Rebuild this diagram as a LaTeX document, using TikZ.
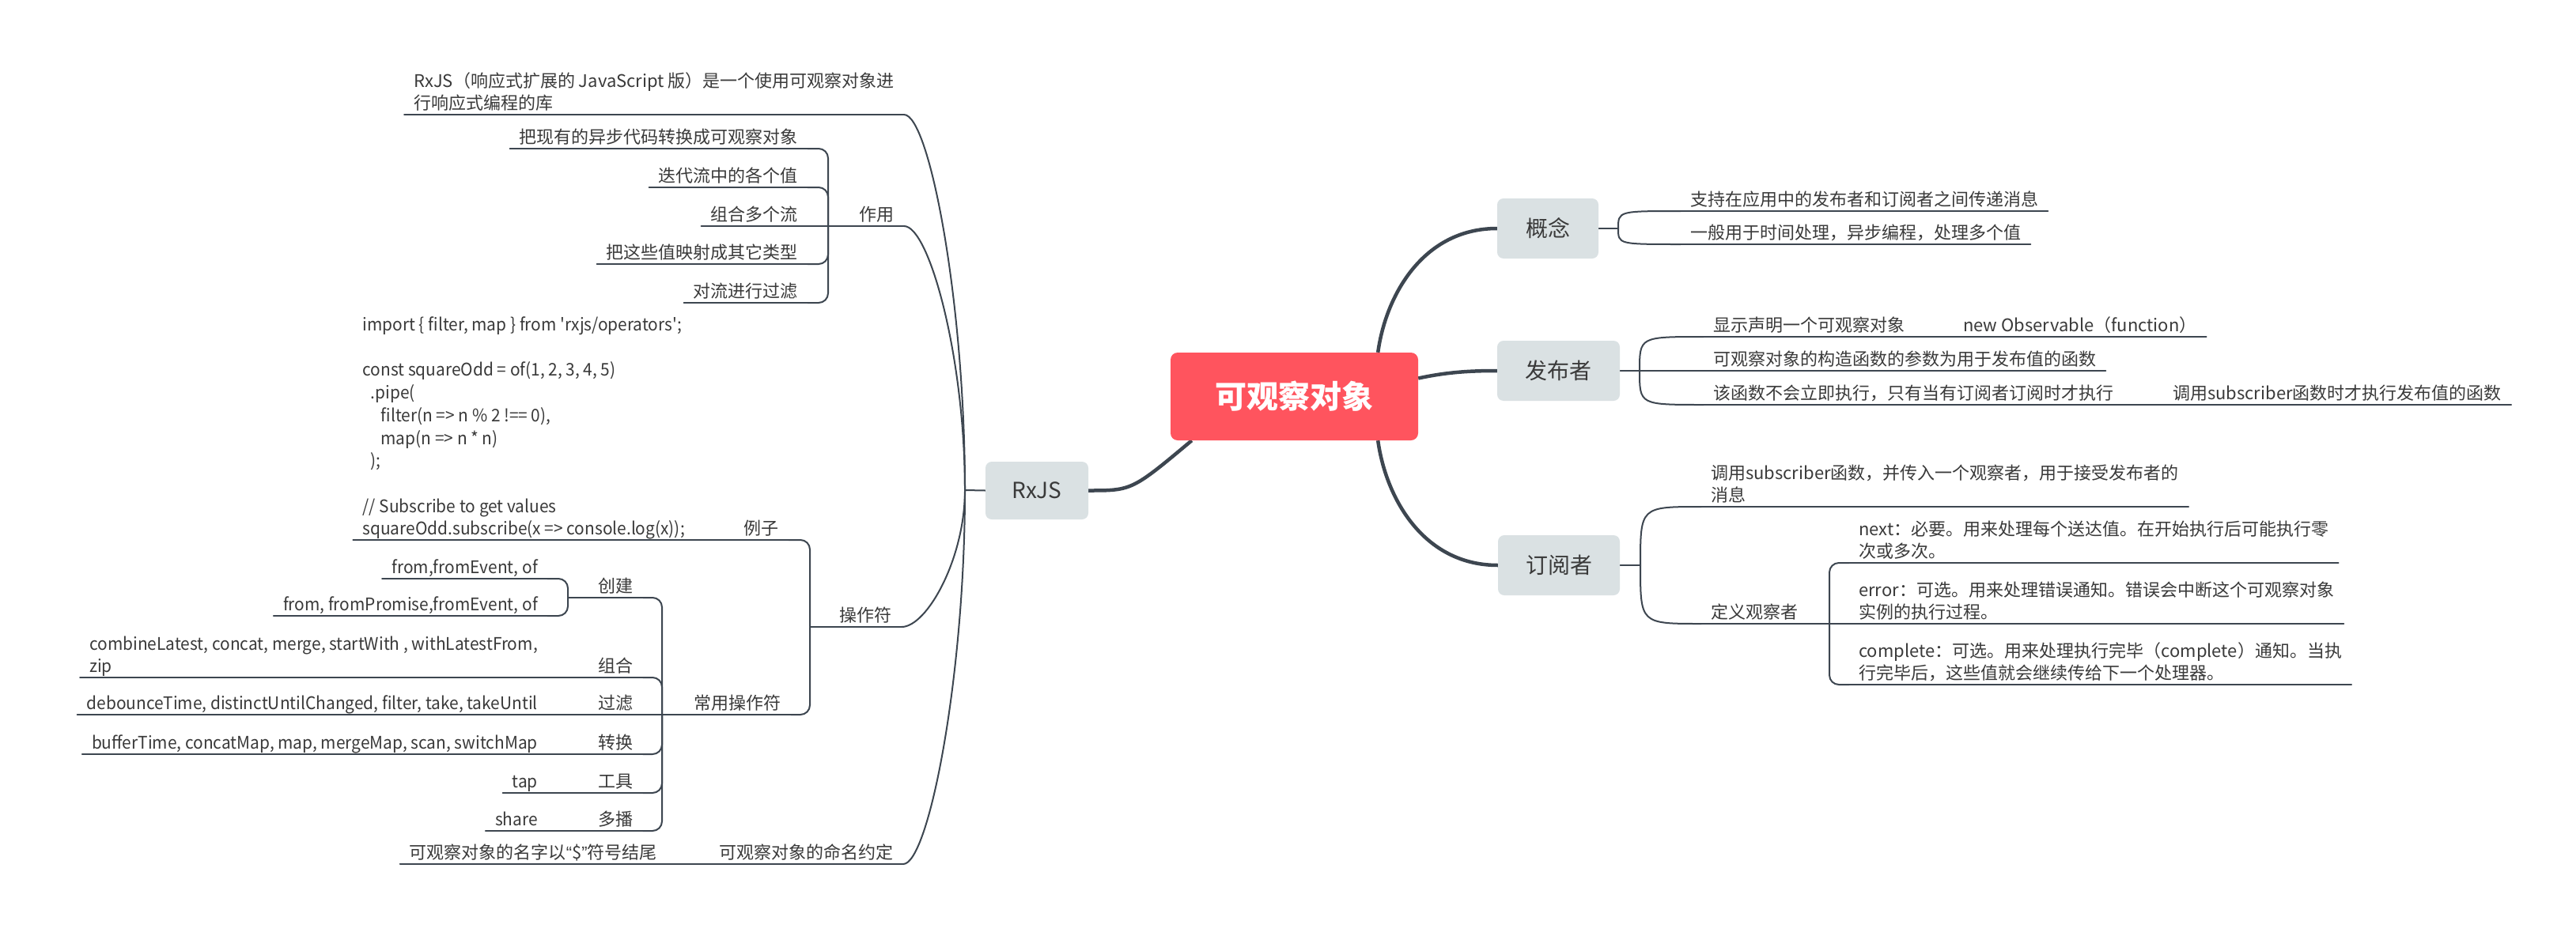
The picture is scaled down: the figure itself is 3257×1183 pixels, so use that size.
\documentclass[tikz,border=0pt]{standalone}
\usepackage{fontspec}
\setmainfont{Noto Sans CJK SC}
\newfontfamily\latf[FakeStretch=0.95]{Noto Sans CJK SC}
\newfontfamily\qfont{Liberation Sans}
\usetikzlibrary{calc}
\definecolor{lnc}{RGB}{61,70,80}
\definecolor{txc}{RGB}{58,58,58}
\definecolor{subfill}{RGB}{218,225,227}
\definecolor{rootfill}{RGB}{255,84,94}
\newcommand{\tstrut}{\rule[-5.5pt]{0pt}{0pt}}
\pgfdeclarelayer{bg}
\pgfsetlayers{bg,main}
\begin{document}
\begin{tikzpicture}[x=1pt,y=-1pt,
  conn/.style={draw=lnc, line width=2pt, line cap=round},
  mainconn/.style={draw=lnc, line width=4.5pt},
  br/.style={conn, rounded corners=12pt},
  topic/.style={font=\fontsize{22}{28.7}\selectfont, text=txc, inner xsep=12pt, inner ysep=0.5pt, text height=17pt, text depth=5.5pt},
  ltopic/.style={topic, font=\fontsize{22}{28.7}\selectfont\latf},
  mtopic/.style={font=\fontsize{22}{28.7}\selectfont, text=txc, align=left, inner xsep=12pt, inner ysep=0.5pt},
  lmtopic/.style={mtopic, font=\fontsize{22}{28.7}\selectfont\latf},
  subbox/.style={fill=subfill, rounded corners=8pt, text=txc, font=\fontsize{28}{34}\selectfont, inner sep=0pt},
  rootbox/.style={fill=rootfill, rounded corners=9pt, text=white, font=\fontsize{40}{48}\selectfont\bfseries, inner sep=0pt},
]
\useasboundingbox (0,0) rectangle (3257,1183);
\begin{pgfonlayer}{bg}
\fill[white] (0,0) rectangle (3257,1183);
\end{pgfonlayer}

% ---------- main nodes ----------
\node[rootbox, minimum width=313pt, minimum height=111pt] (C) at (1636.5,501.5) {可观察对象};
\node[subbox, minimum width=130pt, minimum height=73pt] (R) at (1311,620.5) {RxJS};
\node[subbox, minimum width=128pt, minimum height=76pt] (K1) at (1957,289) {概念};
\node[subbox, minimum width=155pt, minimum height=76pt] (K2) at (1970.5,469) {发布者};
\node[subbox, minimum width=154pt, minimum height=76pt] (K3) at (1971,715) {订阅者};

% ---------- junctions ----------
\coordinate (J) at (1220,620);
\coordinate (jK) at (2046,289);
\coordinate (jP) at (2073,469);
\coordinate (jS) at (2074,715);
\coordinate (brA) at (1047,286);
\coordinate (brOp) at (1024,793);
\coordinate (brC2) at (837,904);
\coordinate (brE1) at (718,756);
\coordinate (brS) at (2313,789);

% ---------- RxJS branch ----------
\node[mtopic, anchor=south east] (A1) at (1143,145) {RxJS（响应式扩展的 JavaScript 版）是一个使用可观察对象进\\行响应式编程的库\tstrut};
\node[topic, anchor=south east] (A2) at (1143,286) {作用};
\node[topic, anchor=south east] (A3) at (1140,793) {操作符};
\node[topic, anchor=south east] (A4) at (1142,1093) {可观察对象的命名约定};

\node[topic, anchor=south east] (B1) at (1021,188) {把现有的异步代码转换成可观察对象};
\node[topic, anchor=south east] (B2) at (1021,237) {迭代流中的各个值};
\node[topic, anchor=south east] (B3) at (1021,286) {组合多个流};
\node[topic, anchor=south east] (B4) at (1021,334) {把这些值映射成其它类型};
\node[topic, anchor=south east] (B5) at (1021,383) {对流进行过滤};

\node[topic, anchor=south east] (C1) at (997,683) {例子};
\node[lmtopic, anchor=south east] (D1) at (878,683) {import \{ filter, map \} from \textquotesingle rxjs/operators\textquotesingle;\\
\mbox{}\\
const squareOdd = of(1, 2, 3, 4, 5)\\
\hspace*{10pt}.pipe(\\
\hspace*{23pt}filter(n => n \% 2 !== 0),\\
\hspace*{23pt}map(n => n * n)\\
\hspace*{10pt});\\
\mbox{}\\
// Subscribe to get values\\
squareOdd.subscribe(x => console.log(x));\tstrut};
\node[topic, anchor=south east] (C2) at (1000,904) {常用操作符};

\node[topic, anchor=south east] (E1) at (813,756) {创建};
\node[topic, anchor=south east] (E2) at (813,857) {组合};
\node[topic, anchor=south east] (E3) at (813,904) {过滤};
\node[topic, anchor=south east] (E4) at (813,954) {转换};
\node[topic, anchor=south east] (E5) at (813,1003) {工具};
\node[topic, anchor=south east] (E6) at (813,1051) {多播};

\node[ltopic, anchor=south east] (F1) at (692,732) {from,fromEvent, of};
\node[ltopic, anchor=south east] (F2) at (692,779) {from, fromPromise,fromEvent, of};
\node[lmtopic, anchor=south east] (F3) at (692,857) {combineLatest, concat, merge, startWith , withLatestFrom,\\zip\tstrut};
\node[ltopic, anchor=south east] (F4) at (692,904) {debounceTime, distinctUntilChanged, filter, take, takeUntil};
\node[ltopic, anchor=south east] (F5) at (692,954) {bufferTime, concatMap, map, mergeMap, scan, switchMap};
\node[ltopic, anchor=south east] (F6) at (692,1003) {tap};
\node[ltopic, anchor=south east] (F7) at (692,1051) {share};

\node[topic, anchor=south east] (G1) at (843,1093) {可观察对象的名字以{\qfont “}\${\qfont ”}符号结尾};

% ---------- right branches ----------
\node[topic, anchor=south west] (K1a) at (2125,267) {支持在应用中的发布者和订阅者之间传递消息};
\node[topic, anchor=south west] (K1b) at (2125,309) {一般用于时间处理，异步编程，处理多个值};

\node[topic, anchor=south west] (P1) at (2154,426) {显示声明一个可观察对象};
\node[topic, anchor=south west] (P1a) at (2470,426) {new Observable（function）};
\node[topic, anchor=south west] (P2) at (2154,469) {可观察对象的构造函数的参数为用于发布值的函数};
\node[topic, anchor=south west] (P3) at (2154,512) {该函数不会立即执行，只有当有订阅者订阅时才执行};
\node[topic, anchor=south west] (P3a) at (2735,512) {调用subscriber函数时才执行发布值的函数};

\node[mtopic, anchor=south west] (S1) at (2151,641) {调用subscriber函数，并传入一个观察者，用于接受发布者的\\消息\tstrut};
\node[topic, anchor=south west] (S2) at (2151,789) {定义观察者};
\node[mtopic, anchor=south west] (S3) at (2338,712) {next：必要。用来处理每个送达值。在开始执行后可能执行零\\次或多次。\tstrut};
\node[mtopic, anchor=south west] (S4) at (2338,789) {error：可选。用来处理错误通知。错误会中断这个可观察对象\\实例的执行过程。\tstrut};
\node[mtopic, anchor=south west] (S5) at (2338,866) {complete：可选。用来处理执行完毕（complete）通知。当执\\行完毕后，这些值就会继续传给下一个处理器。\tstrut};

% ---------- connectors ----------
\begin{pgfonlayer}{bg}
% underlines
\foreach \n in {A1,A2,A3,A4,B1,B2,B3,B4,B5,C1,D1,C2,E1,E2,E3,E4,E5,E6,F1,F2,F3,F4,F5,F6,F7,G1,K1a,K1b,P1,P1a,P2,P3,P3a,S1,S2,S3,S4,S5}
  \draw[conn] (\n.south west) -- (\n.south east);

% root to main topics
\draw[mainconn] ($(C.south west)+(27,0)$) .. controls ($(R.east)+(55,0)$) .. (R.east);
\draw[mainconn] ($(C.north east)+(-51,0)$) .. controls +(10,-73) and +(-93,0) .. (K1.west);
\draw[mainconn] ($(C.east)+(0,-23)$) .. controls +(37,-8) and +(-33,0) .. (K2.west);
\draw[mainconn] ($(C.south east)+(-51,0)$) .. controls +(10,73) and +(-94,0) .. (K3.west);

% RxJS spine
\draw[conn] (R.west) -- (J);
\draw[conn] (A1.south east) .. controls +(32,0) and ($(J)!0.5!(J|-A1.south east)$) .. (J);
\draw[conn] (A2.south east) .. controls +(32,0) and ($(J)!0.5!(J|-A2.south east)$) .. (J);
\draw[conn] (A3.south east) .. controls +(32,0) and ($(J)!0.5!(J|-A3.south east)$) .. (J);
\draw[conn] (A4.south east) .. controls +(32,0) and ($(J)!0.5!(J|-A4.south east)$) .. (J);

% 作用
\draw[conn] (A2.south west) -- (B3.south east);
\foreach \n in {B1,B2,B4,B5} \draw[br] (brA) |- (\n.south east);

% 操作符
\draw[conn] (A3.south west) -- (brOp);
\draw[br] (brOp) |- (C1.south east);
\draw[br] (brOp) |- (C2.south east);
\draw[conn] (D1.south east) -- (C1.south west);

% 常用操作符
\draw[conn] (C2.south west) -- (E3.south east);
\foreach \n in {E1,E2,E4,E5,E6} \draw[br] (brC2) |- (\n.south east);

% 创建
\draw[conn] (E1.south west) -- (brE1);
\draw[br] (brE1) |- (F1.south east);
\draw[br] (brE1) |- (F2.south east);
\draw[conn] (E2.south west) -- (F3.south east);
\draw[conn] (E3.south west) -- (F4.south east);
\draw[conn] (E4.south west) -- (F5.south east);
\draw[conn] (E5.south west) -- (F6.south east);
\draw[conn] (E6.south west) -- (F7.south east);

% 命名约定
\draw[conn] (A4.south west) -- (G1.south east);

% 概念
\draw[conn] (K1.east) -- (jK);
\draw[conn] (jK) .. controls (jK|-K1a.south west) .. (K1a.south west);
\draw[conn] (jK) .. controls (jK|-K1b.south west) .. (K1b.south west);

% 发布者
\draw[conn] (K2.east) -- (jP) -- (P2.south west);
\draw[conn] (jP) .. controls (jP|-P1.south west) .. (P1.south west);
\draw[conn] (jP) .. controls (jP|-P3.south west) .. (P3.south west);
\draw[conn] (P1.south east) -- (P1a.south west);
\draw[conn] (P3.south east) -- (P3a.south west);

% 订阅者
\draw[conn] (K3.east) -- (jS);
\draw[conn] (jS) .. controls (jS|-S1.south west) .. (S1.south west);
\draw[conn] (jS) .. controls (jS|-S2.south west) .. (S2.south west);
\draw[conn] (S2.south east) -- (S4.south west);
\draw[br] (brS) |- (S3.south west);
\draw[br] (brS) |- (S5.south west);
\end{pgfonlayer}
\end{tikzpicture}
\end{document}
